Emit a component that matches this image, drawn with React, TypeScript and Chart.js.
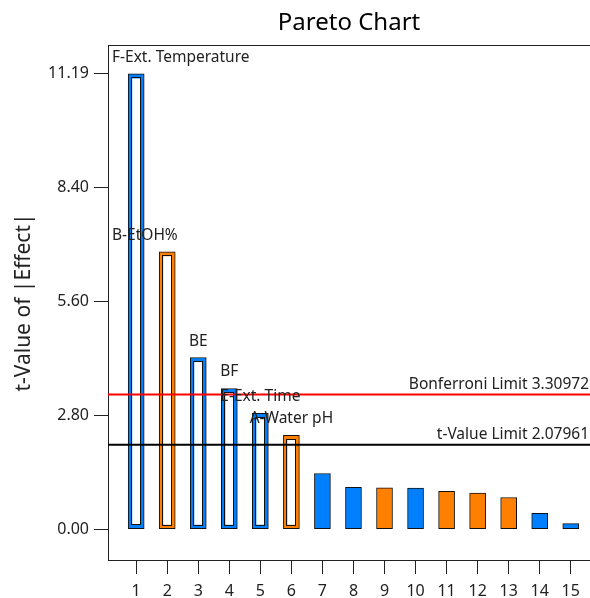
import React, { useEffect, useRef } from "react";
import { Chart, registerables } from "chart.js";

Chart.register(...registerables);

// ---- data ----
const ranks = [1, 2, 3, 4, 5, 6, 7, 8, 9, 10, 11, 12, 13, 14, 15];
const termLabels = ["F-Ext. Temperature", "B-EtOH%", "BE", "BF", "E-Ext. Time", "A-Water pH", "", "", "", "", "", "", "", "", ""];
const tValues = [11.19, 6.82, 4.22, 3.46, 2.85, 2.31, 1.37, 1.03, 1.02, 1.01, 0.93, 0.89, 0.78, 0.39, 0.14];
const effectSigns = ["+", "-", "+", "+", "+", "-", "+", "+", "-", "+", "-", "-", "-", "+", "+"];
const yTickValues = [0, 2.8, 5.6, 8.4, 11.19];
const tValueLimit = 2.07961;
const bonferroniLimit = 3.30972;

const FONT = "'Noto Sans', 'Open Sans', sans-serif";
const POS_COLOR = "rgb(0,128,255)";
const NEG_COLOR = "rgb(255,128,0)";
const AXIS_COLOR = "#222";

const paretoPlugin = {
  id: "paretoExtras",
  afterDatasetsDraw(chart: any) {
    const { ctx, chartArea } = chart;
    const yScale = chart.scales.y;
    const meta = chart.getDatasetMeta(0);
    ctx.save();
    // hollow bars (significant effects)
    meta.data.forEach((bar: any, i: number) => {
      if (tValues[i] <= tValueLimit) return;
      const { x, y, base, width } = bar.getProps(["x", "y", "base", "width"], true);
      const inset = 4;
      const l = x - width / 2 + inset;
      const r = x + width / 2 - inset;
      const t = y + inset + 0.5;
      const b = base - inset;
      ctx.fillStyle = "#fff";
      ctx.fillRect(l, t, r - l, b - t);
      ctx.strokeStyle = "#111";
      ctx.lineWidth = 1;
      ctx.strokeRect(Math.round(l) - 0.5, Math.round(t) - 0.5, Math.round(r - l) + 1, Math.round(b - t) + 1);
    });
    // top frame line
    ctx.strokeStyle = AXIS_COLOR;
    ctx.lineWidth = 1;
    ctx.beginPath();
    ctx.moveTo(chartArea.left, Math.round(chartArea.top) + 0.5);
    ctx.lineTo(chartArea.right, Math.round(chartArea.top) + 0.5);
    ctx.stroke();
    // limit lines
    const limits = [
      { v: bonferroniLimit, color: "#ff0000", text: "Bonferroni Limit " + bonferroniLimit.toFixed(5) },
      { v: tValueLimit, color: "#000000", text: "t-Value Limit " + tValueLimit.toFixed(5) },
    ];
    ctx.font = `15.5px ${FONT}`;
    limits.forEach((lim) => {
      const py = yScale.getPixelForValue(lim.v);
      ctx.strokeStyle = lim.color;
      ctx.lineWidth = 2;
      ctx.beginPath();
      ctx.moveTo(chartArea.left, py);
      ctx.lineTo(chartArea.right, py);
      ctx.stroke();
      ctx.fillStyle = "#222";
      ctx.textAlign = "right";
      ctx.textBaseline = "alphabetic";
      ctx.fillText(lim.text, chartArea.right - 1, py - 6);
    });
    // term labels above bars
    ctx.fillStyle = "#222";
    ctx.textBaseline = "alphabetic";
    meta.data.forEach((bar: any, i: number) => {
      const label = termLabels[i];
      if (!label) return;
      const { x, y } = bar.getProps(["x", "y"], true);
      const w = ctx.measureText(label).width;
      let lx = x - w / 2;
      if (i < 2) lx = chartArea.left + 4;
      ctx.textAlign = "left";
      ctx.fillText(label, lx, y - 12);
    });
    ctx.restore();
  },
};

export default function App() {
  const ref = useRef<HTMLCanvasElement | null>(null);
  useEffect(() => {
    if (!ref.current) return;
    const chart = new Chart(ref.current, {
      type: "bar",
      data: {
        datasets: [
          {
            data: ranks.map((r, i) => ({ x: r, y: tValues[i] })),
            backgroundColor: effectSigns.map((s) => (s === "+" ? POS_COLOR : NEG_COLOR)),
            borderColor: "#111",
            borderWidth: 1,
            borderSkipped: false,
            barThickness: 16,
          } as any,
        ],
      },
      options: {
        animation: false,
        responsive: false,
        maintainAspectRatio: false,
        layout: { padding: 0 },
        plugins: {
          legend: { display: false },
          tooltip: { enabled: false },
          title: {
            display: true,
            text: "Pareto Chart",
            fullSize: false,
            color: "#000",
            font: { family: FONT, size: 24, weight: "normal" },
            padding: { top: 8.6, bottom: 7.6 },
          },
        },
        scales: {
          x: {
            type: "linear",
            offset: false,
            min: 0.092,
            max: 15.62,
            afterBuildTicks: (s: any) => {
              s.ticks = ranks.map((v) => ({ value: v }));
            },
            afterFit: (s: any) => {
              s.height = 38;
            },
            grid: { display: true, offset: false, drawOnChartArea: false, tickLength: 14, color: AXIS_COLOR },
            border: { display: true, color: AXIS_COLOR, width: 1 },
            ticks: {
              autoSkip: false,
              maxRotation: 0,
              padding: 8,
              color: "#222",
              font: { family: FONT, size: 16 },
              callback: (v: any) => String(v),
            },
          },
          y: {
            type: "linear",
            min: -0.755,
            max: 11.9,
            afterBuildTicks: (s: any) => {
              s.ticks = yTickValues.map((v) => ({ value: v }));
            },
            afterFit: (s: any) => {
              s.width = 108;
            },
            grid: { display: true, drawOnChartArea: false, tickLength: 14, color: AXIS_COLOR },
            border: { display: true, color: AXIS_COLOR, width: 1 },
            ticks: {
              padding: 5,
              color: "#222",
              font: { family: FONT, size: 16 },
              callback: (v: any) => Number(v).toFixed(2),
            },
            title: {
              display: true,
              text: "t-Value of |Effect|",
              color: "#222",
              font: { family: FONT, size: 21 },
              padding: { top: 11.4, bottom: 0 },
            },
          },
        },
      },
      plugins: [paretoPlugin],
    } as any);
    return () => chart.destroy();
  }, []);
  return (
    <div style={{ position: "absolute", left: 0, top: 0, width: 590, height: 598 }}>
      <canvas ref={ref} width={590} height={598} style={{ display: "block" }} />
    </div>
  );
}
